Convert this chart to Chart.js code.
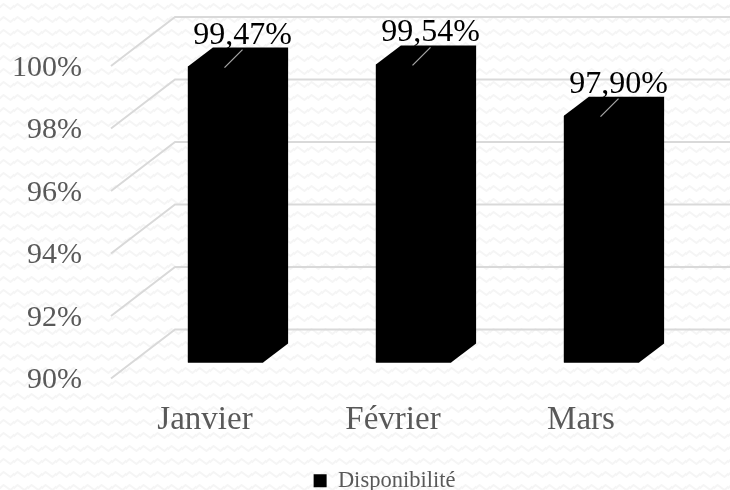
<!DOCTYPE html>
<html lang="fr">
<head>
<meta charset="utf-8">
<style>html,body{margin:0;padding:0;background:#fff}#w{width:730px;height:490px}</style>
<script src="https://cdn.jsdelivr.net/npm/chart.js@4"></script>
</head>
<body>
<div id="w"><canvas id="c" width="730" height="490"></canvas></div>
<script>
const categories = ['Janvier', 'Février', 'Mars'];
const availability = [99.47, 99.54, 97.90];
const seriesName = 'Disponibilité';
const FONT = '"Liberation Serif", serif';
const WALL = {dx: 64, dy: -49};
const BAR_PLANE = {dx: 20.5, dy: -16};
const BAR_DEPTH = {dx: 25, dy: -19};
const LEGEND_SHIFT = {dx: 47, dy: 12};

function wavePattern(ctx) {
  const p = document.createElement('canvas');
  p.width = 14; p.height = 13;
  const g = p.getContext('2d');
  g.fillStyle = '#fff'; g.fillRect(0, 0, 14, 13);
  g.strokeStyle = '#f5f5f5'; g.lineWidth = 2;
  g.beginPath();
  g.moveTo(-1, 8);
  g.lineTo(3.5, 4); g.lineTo(10.5, 9); g.lineTo(15, 5);
  g.stroke();
  return ctx.createPattern(p, 'repeat');
}

const threeD = {
  id: 'threeD',
  afterLayout(chart) {
    const l = chart.legend;
    l.left += LEGEND_SHIFT.dx; l.right += LEGEND_SHIFT.dx;
    l.top += LEGEND_SHIFT.dy; l.bottom += LEGEND_SHIFT.dy;
  },
  beforeDraw(chart) {
    const {ctx, width, height} = chart;
    ctx.save();
    ctx.fillStyle = wavePattern(ctx);
    ctx.fillRect(0, 0, width, height);
    ctx.restore();
  },
  beforeDatasetsDraw(chart) {
    const {ctx, chartArea: a, scales: {y}} = chart;
    ctx.save();
    ctx.strokeStyle = '#d9d9d9';
    y.ticks.forEach(t => {
      const py = y.getPixelForValue(t.value);
      ctx.lineWidth = 2;
      ctx.beginPath();
      ctx.moveTo(a.left, py);
      ctx.lineTo(a.left + WALL.dx, py + WALL.dy);
      ctx.lineTo(a.right + WALL.dx, py + WALL.dy);
      ctx.stroke();
    });
    ctx.restore();
    // extruded sides of each bar, behind the front face
    ctx.save();
    ctx.fillStyle = '#000';
    chart.getDatasetMeta(0).data.forEach(b => {
      const l = b.x - b.width / 2 + BAR_PLANE.dx, r = b.x + b.width / 2 + BAR_PLANE.dx;
      const top = b.y + BAR_PLANE.dy, base = b.base + BAR_PLANE.dy;
      ctx.beginPath();
      ctx.moveTo(l, top);
      ctx.lineTo(l + BAR_DEPTH.dx, top + BAR_DEPTH.dy);
      ctx.lineTo(r + BAR_DEPTH.dx, top + BAR_DEPTH.dy);
      ctx.lineTo(r + BAR_DEPTH.dx, base + BAR_DEPTH.dy);
      ctx.lineTo(r, base);
      ctx.lineTo(l, base);
      ctx.closePath();
      ctx.fill();
    });
    ctx.restore();
    ctx.save();
    ctx.translate(BAR_PLANE.dx, BAR_PLANE.dy);
  },
  afterDatasetsDraw(chart) {
    const {ctx} = chart;
    ctx.restore();
    ctx.save();
    const meta = chart.getDatasetMeta(0);
    meta.data.forEach((b, i) => {
      const cx = b.x + BAR_PLANE.dx, top = b.y + BAR_PLANE.dy;
      ctx.strokeStyle = '#a6a6a6';
      ctx.lineWidth = 1.2;
      ctx.beginPath();
      ctx.moveTo(cx - 1, top + 1);
      ctx.lineTo(cx + 17, top - 17);
      ctx.stroke();
      ctx.fillStyle = '#000';
      ctx.font = '32px ' + FONT;
      ctx.textAlign = 'center';
      ctx.textBaseline = 'alphabetic';
      ctx.fillText(availability[i].toFixed(2).replace('.', ',') + '%', cx + 17, top - 23);
    });
    ctx.restore();
  }
};

new Chart(document.getElementById('c'), {
  type: 'bar',
  data: {
    labels: categories,
    datasets: [{
      label: seriesName,
      data: availability,
      base: 90,
      backgroundColor: '#000',
      borderWidth: 0,
      barPercentage: 1,
      categoryPercentage: 0.4,
      clip: false
    }]
  },
  plugins: [threeD],
  options: {
    responsive: false,
    animation: false,
    layout: {padding: {top: 66, right: 55, left: 0, bottom: 0}},
    plugins: {
      tooltip: {enabled: false},
      legend: {
        position: 'bottom',
        labels: {
          color: '#595959',
          boxWidth: 13, boxHeight: 13,
          padding: 6,
          font: {family: FONT, size: 22.5}
        }
      }
    },
    scales: {
      x: {
        grid: {display: false, drawTicks: false},
        border: {display: false},
        ticks: {color: '#595959', padding: 22, font: {family: FONT, size: 33}, maxRotation: 0},
        afterFit(s) { s.height = 73; }
      },
      y: {
        min: 90, max: 100,
        grid: {display: false, drawTicks: false},
        border: {display: false},
        ticks: {
          stepSize: 2,
          color: '#595959',
          padding: 29,
          labelOffset: 2,
          font: {family: FONT, size: 30},
          callback: v => v + '%'
        },
        afterFit(s) { s.width = 111; }
      }
    }
  }
});
</script>
</body>
</html>
